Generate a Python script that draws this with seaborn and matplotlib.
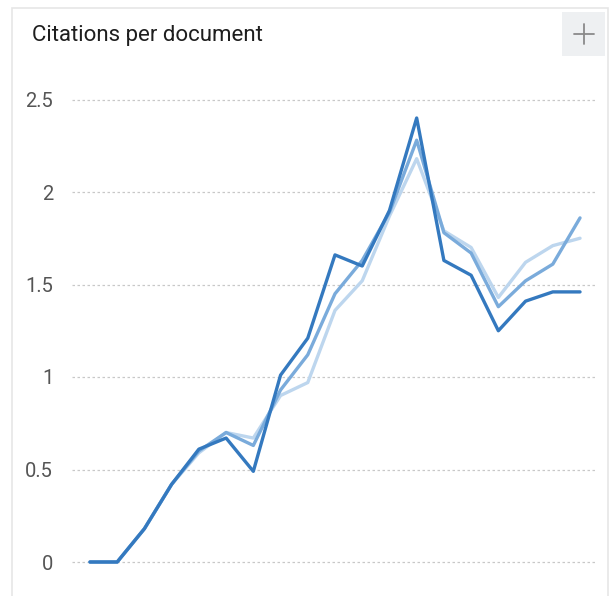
import matplotlib
matplotlib.use("Agg")
import matplotlib.pyplot as plt
from matplotlib.patches import Rectangle
from matplotlib.lines import Line2D
import pandas as pd
import seaborn as sns

# Citations per document, three comparison series over 19 periods
periods = list(range(19))
series_names = ["Set C", "Set B", "Set A"]
values_light = [0, 0, 0.18, 0.42, 0.59, 0.70, 0.67, 0.90, 0.97, 1.36, 1.52, 1.87, 2.18, 1.79, 1.70, 1.43, 1.62, 1.71, 1.75]
values_mid = [0, 0, 0.18, 0.42, 0.60, 0.70, 0.63, 0.93, 1.12, 1.45, 1.63, 1.89, 2.28, 1.78, 1.67, 1.38, 1.52, 1.61, 1.86]
values_dark = [0, 0, 0.18, 0.42, 0.61, 0.67, 0.49, 1.01, 1.21, 1.66, 1.60, 1.90, 2.40, 1.63, 1.55, 1.25, 1.41, 1.46, 1.46]
y_ticks = [0, 0.5, 1, 1.5, 2, 2.5]
y_tick_labels = ["0", "0.5", "1", "1.5", "2", "2.5"]
palette = ["#BDD6EE", "#7AABDB", "#3479BF"]

df = pd.DataFrame({
    "period": periods * 3,
    "value": values_light + values_mid + values_dark,
    "series": [series_names[0]] * 19 + [series_names[1]] * 19 + [series_names[2]] * 19,
})

sns.set_theme(style="white")
plt.rcParams["font.family"] = ["Roboto", "DejaVu Sans"]

W, H = 614, 596
fig = plt.figure(figsize=(W / 100, H / 100), dpi=100)
fig.patch.set_facecolor("white")

# card outline
fig.add_artist(Rectangle((12 / W, -0.05), (608 - 12) / W, (H - 8) / H + 0.05,
                         transform=fig.transFigure, facecolor="none",
                         edgecolor="#E6E6E6", linewidth=1.2))

# expand button in the top-right corner
bx0, bx1, by0, by1 = 562, 605, 12, 56
fig.add_artist(Rectangle((bx0 / W, 1 - by1 / H), (bx1 - bx0) / W, (by1 - by0) / H,
                         transform=fig.transFigure, facecolor="#EEF0F2", edgecolor="none"))
cx, cy, r = (bx0 + bx1) / 2, (by0 + by1) / 2, 10
fig.add_artist(Line2D([(cx - r) / W, (cx + r) / W], [1 - cy / H, 1 - cy / H],
                      transform=fig.transFigure, color="#8A8A8A", linewidth=1.3))
fig.add_artist(Line2D([cx / W, cx / W], [1 - (cy - r) / H, 1 - (cy + r) / H],
                      transform=fig.transFigure, color="#8A8A8A", linewidth=1.3))

fig.text(32 / W, 1 - 41.5 / H, "Citations per document", ha="left", va="baseline",
         fontsize=16, color="#1E1E1E")

ax = fig.add_axes([72 / W, (H - 580.5) / H, 523 / W, 490.25 / H])
sns.lineplot(data=df, x="period", y="value", hue="series", hue_order=series_names,
             palette=palette, linewidth=2.4, legend=False, ax=ax)

ax.set_xlim(-0.66, 18.55)
ax.set_ylim(-0.1, 2.55)
ax.set_yticks(y_ticks)
ax.set_yticklabels(y_tick_labels)
ax.set_xticks([])
ax.set_xlabel("")
ax.set_ylabel("")
ax.tick_params(axis="y", length=0, pad=13.5, labelsize=14.5, labelcolor="#555555")
for s in ax.spines.values():
    s.set_visible(False)
ax.set_facecolor("none")
ax.yaxis.grid(True, linestyle=(0, (2, 2)), color="#C8C8C8", linewidth=0.9)
ax.set_axisbelow(True)

fig.savefig("out.png", dpi=100)
